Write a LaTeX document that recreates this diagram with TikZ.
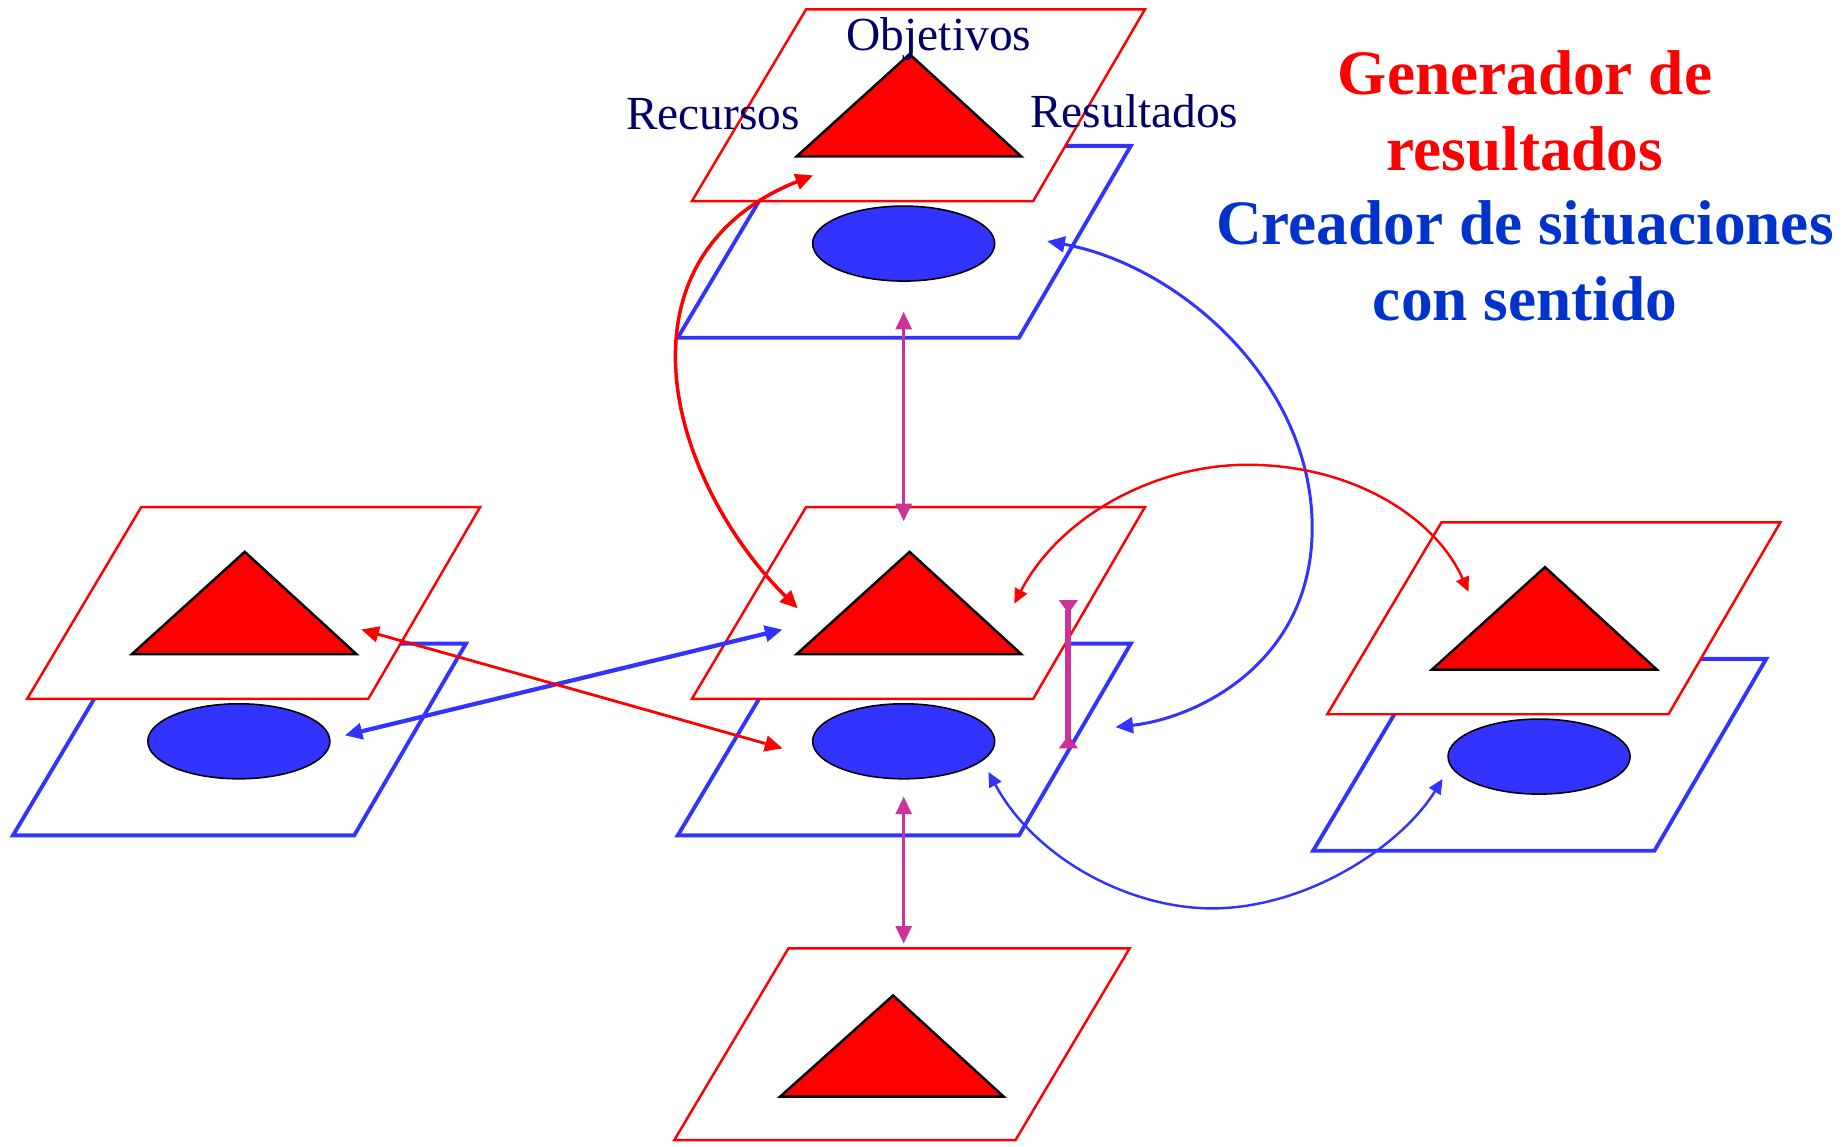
\documentclass[tikz,border=0pt]{standalone}
\usepackage{fontspec}
\setmainfont{Liberation Serif}
\usepackage{tikz}
\usetikzlibrary{shapes,arrows.meta,positioning,calc}

\definecolor{planered}{HTML}{FF0000}
\definecolor{planeblue}{HTML}{3333FF}
\definecolor{titleblue}{HTML}{0033CC}
\definecolor{labelnavy}{HTML}{000066}
\definecolor{linkmagenta}{HTML}{CC3399}

\begin{document}
\begin{tikzpicture}[x=0.011767cm, y=-0.011767cm]
        % Define styles
        \tikzset{
            redplane/.style={draw=planered, line width=0.7pt, fill=white},
            blueplane/.style={draw=planeblue, line width=1.1pt},
            tri/.style={draw=black, line width=0.7pt, fill=planered},
            ell/.style={draw=black, ellipse, line width=0.45pt, fill=planeblue, minimum width=1.82cm, minimum height=0.75cm, inner sep=0pt},
            lbltext/.style={text=labelnavy, font=\fontsize{13.5}{16}\selectfont, anchor=base},
            headline/.style={font=\fontsize{18}{22}\selectfont\bfseries, anchor=base},
            twoway/.style={{Triangle[length=5pt,width=4.5pt]}-{Triangle[length=5pt,width=4.5pt]}},
            thinway/.style={{Triangle[length=4.2pt,width=3.8pt]}-{Triangle[length=4.2pt,width=3.8pt]}},
            backway/.style={{Triangle[reversed,length=3.8pt,width=5.2pt]}-{Triangle[reversed,length=3.8pt,width=5.2pt]}}
        }
        \useasboundingbox (0,0) rectangle (1568,974);

        % Draw the planes (blue under red)
        \foreach \px/\py/\nm in {685/8/top, 685/431/mid, 120/431/left, 1225/444/right}{
            \begin{scope}[shift={(\px,\py)}]
                \draw[blueplane] (-12,116) -- (276,116) -- (181,279) -- (-109,279) -- cycle;
                \draw[redplane] (0,0) -- (288,0) -- (193,163) -- (-97,163) -- cycle;
                \draw[tri] (-8,125) -- (88,38) -- (183,125) -- cycle;
                \node[ell] (ell\nm) at (83,199) {};
            \end{scope}
        }
        \begin{scope}[shift={(670,806)}]
            \draw[redplane] (0,0) -- (290,0) -- (193,163) -- (-97,163) -- cycle;
            \draw[tri] (-7,126) -- (89,40) -- (183,126) -- cycle;
        \end{scope}

        % Labels
        \node[lbltext] (objetivos) at (798,43) {Objetivos};
        \node[lbltext] (recursos) at (606,110) {Recursos};
        \node[lbltext] (resultados) at (964,108) {Resultados};
        \node[headline, text=planered] (gen1) at (1296,80) {Generador de};
        \node[headline, text=planered] (gen2) at (1296,145) {resultados};
        \node[headline, text=titleblue] (cre1) at (1296,208) {Creador de situaciones};
        \node[headline, text=titleblue] (cre2) at (1296,272) {con sentido};

        % Arrow ends
        \coordinate (topTri) at (691,149);
        \coordinate (midTriL) at (678,517);
        \coordinate (midTriR) at (862,513);
        \coordinate (midTriW) at (665,535);
        \coordinate (midEllW) at (665,636);
        \coordinate (midEllSE) at (840,656);
        \coordinate (topEllE) at (890,205);
        \coordinate (midEllE) at (948,618);
        \coordinate (leftTri) at (307,535);
        \coordinate (leftEll) at (293,625);
        \coordinate (rightTri) at (1248,503);
        \coordinate (rightEll) at (1226,662);
        \coordinate (up1) at (768,265);
        \coordinate (up2) at (768,443);
        \coordinate (down1) at (768,677);
        \coordinate (down2) at (768,802);
        \coordinate (side1) at (908,510);
        \coordinate (side2) at (908,636);

        % Draw arrows
        \draw[twoway, planered, line width=1pt] (midTriL) .. controls (620,460) and (574,380) .. (574,303)
            .. controls (574,220) and (625,175) .. (topTri);
        \draw[twoway, linkmagenta, line width=0.95pt] (up1) -- (up2);
        \draw[twoway, linkmagenta, line width=0.95pt] (down1) -- (down2);
        \draw[backway, linkmagenta, line width=1.7pt] (side1) -- (side2);
        \draw[twoway, planeblue, line width=1.2pt] (leftEll) -- (midTriW);
        \draw[twoway, planered, line width=0.8pt] (leftTri) -- (midEllW);
        \draw[twoway, planeblue, line width=0.85pt] (topEllE) .. controls (1000,225) and (1110,320) .. (1115,440)
            .. controls (1120,560) and (1020,610) .. (midEllE);
        \draw[thinway, planered, line width=0.7pt] (midTriR) .. controls (900,440) and (980,395) .. (1060,395)
            .. controls (1150,395) and (1220,440) .. (rightTri);
        \draw[thinway, planeblue, line width=0.7pt] (midEllSE) .. controls (880,730) and (960,772) .. (1030,772)
            .. controls (1110,772) and (1190,720) .. (rightEll);
    \end{tikzpicture}
\end{document}
